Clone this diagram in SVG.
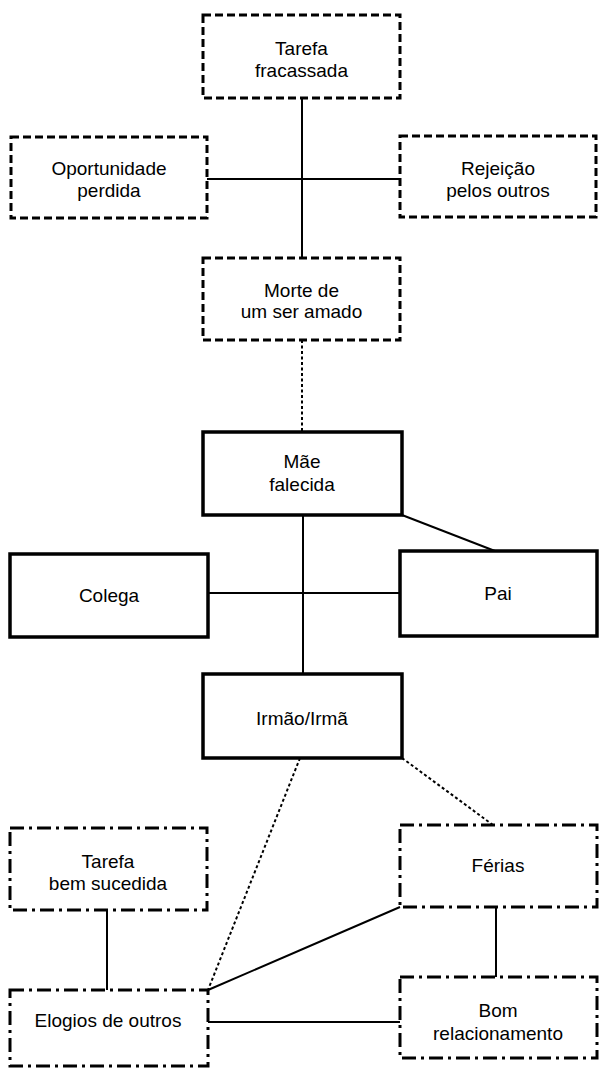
<svg xmlns="http://www.w3.org/2000/svg" width="600" height="1068" viewBox="0 0 600 1068">
  <style>
    .box { fill: #fff; stroke: #000; }
    .dashed { stroke-width: 3; stroke-dasharray: 8 4; }
    .solid { stroke-width: 3.5; }
    .dashdot { stroke-width: 3; stroke-dasharray: 14 5 3 5; }
    .link { stroke: #000; stroke-width: 2; fill: none; }
    .dot { stroke: #000; stroke-width: 2; fill: none; stroke-dasharray: 3 2.5; }
    text { font-family: "Liberation Sans", Arial, sans-serif; font-size: 19px; fill: #000; text-anchor: middle; }
  </style>
  <rect width="600" height="1068" fill="#fff"/>

  <!-- connectors -->
  <g id="connectors">
    <line class="link" x1="302" y1="98" x2="302" y2="258"/>
    <line class="link" x1="207" y1="179" x2="400" y2="179"/>
    <line class="dot" x1="302" y1="340" x2="302" y2="432"/>
    <line class="link" x1="303" y1="515" x2="303" y2="674"/>
    <line class="link" x1="402" y1="515" x2="495" y2="551"/>
    <line class="link" x1="208" y1="593" x2="400" y2="593"/>
    <line class="dot" x1="300" y1="758" x2="208" y2="990"/>
    <line class="dot" x1="402" y1="758" x2="493" y2="825"/>
    <line class="link" x1="208" y1="990" x2="400" y2="907"/>
    <line class="link" x1="107" y1="910" x2="107" y2="990"/>
    <line class="link" x1="496" y1="907" x2="496" y2="977"/>
    <line class="link" x1="208" y1="1022" x2="400" y2="1022"/>
  </g>

  <!-- dashed nodes -->
  <g id="tarefa-fracassada">
    <rect class="box dashed" x="203" y="15" width="197" height="83"/>
    <text x="301.5" y="55">Tarefa</text>
    <text x="301.5" y="77">fracassada</text>
  </g>
  <g id="oportunidade-perdida">
    <rect class="box dashed" x="11" y="137" width="196" height="81"/>
    <text x="109" y="175">Oportunidade</text>
    <text x="109" y="197">perdida</text>
  </g>
  <g id="rejeicao">
    <rect class="box dashed" x="400" y="136" width="196" height="81"/>
    <text x="498" y="175">Rejeição</text>
    <text x="498" y="197">pelos outros</text>
  </g>
  <g id="morte">
    <rect class="box dashed" x="203" y="258" width="197" height="82"/>
    <text x="301.5" y="297">Morte de</text>
    <text x="301.5" y="318">um ser amado</text>
  </g>

  <!-- solid nodes -->
  <g id="mae">
    <rect class="box solid" x="203" y="432" width="199" height="83"/>
    <text x="302" y="468">Mãe</text>
    <text x="302" y="491">falecida</text>
  </g>
  <g id="colega">
    <rect class="box solid" x="10" y="554" width="198" height="83"/>
    <text x="109" y="602">Colega</text>
  </g>
  <g id="pai">
    <rect class="box solid" x="400" y="551" width="197" height="85"/>
    <text x="498" y="600">Pai</text>
  </g>
  <g id="irmao">
    <rect class="box solid" x="203" y="674" width="199" height="84"/>
    <text x="302" y="725">Irmão/Irmã</text>
  </g>

  <!-- dash-dot nodes -->
  <g id="tarefa-bem-sucedida">
    <rect class="box dashdot" x="10" y="828" width="197" height="82"/>
    <text x="108" y="868">Tarefa</text>
    <text x="108" y="890">bem sucedida</text>
  </g>
  <g id="ferias">
    <rect class="box dashdot" x="400" y="825" width="197" height="82"/>
    <text x="498" y="872">Férias</text>
  </g>
  <g id="elogios">
    <rect class="box dashdot" x="10" y="990" width="198" height="76"/>
    <text x="108" y="1027">Elogios de outros</text>
  </g>
  <g id="bom-relacionamento">
    <rect class="box dashdot" x="400" y="977" width="197" height="81"/>
    <text x="498" y="1017">Bom</text>
    <text x="498" y="1040">relacionamento</text>
  </g>
</svg>
